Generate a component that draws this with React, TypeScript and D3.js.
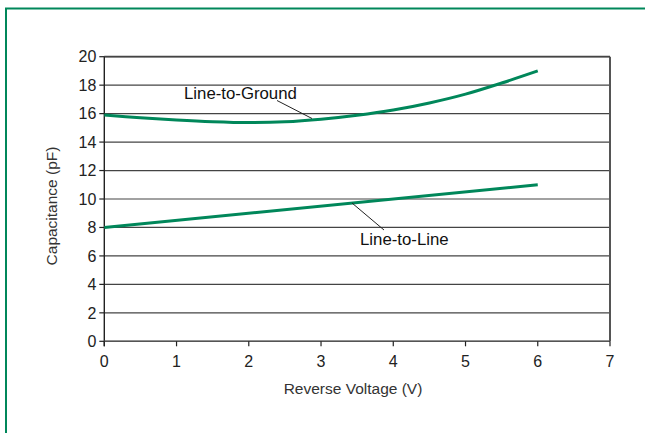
import React from "react";
import * as d3 from "d3";

const voltage = [0, 0.5, 1, 1.5, 2, 2.5, 3, 3.5, 4, 4.5, 5, 5.5, 6];
const lineToGround = [15.9, 15.71, 15.55, 15.43, 15.37, 15.42, 15.6, 15.88, 16.25, 16.75, 17.37, 18.15, 19.0];
const lineToLineV = [0, 6];
const lineToLine = [8.0, 11.0];
const xTicks = [0, 1, 2, 3, 4, 5, 6, 7];
const yTicks = [0, 2, 4, 6, 8, 10, 12, 14, 16, 18, 20];

const W = 645;
const H = 433;
const GREEN = "#00875a";
const FONT = "'Liberation Sans', Arial, Helvetica, sans-serif";

export default function App() {
  const x = d3.scaleLinear().domain([0, 7]).range([104.3, 610]);
  const y = d3.scaleLinear().domain([0, 20]).range([341.3, 56.7]);
  const line = d3
    .line<[number, number]>()
    .x((d) => x(d[0]))
    .y((d) => y(d[1]))
    .curve(d3.curveCatmullRom.alpha(0.5));
  const gPts: [number, number][] = voltage.map((v, i) => [v, lineToGround[i]]);
  const lPts: [number, number][] = lineToLineV.map((v, i) => [v, lineToLine[i]]);

  return (
    <svg
      width={W}
      height={H}
      style={{ position: "absolute", left: 0, top: 0, background: "#fff" }}
      fontFamily={FONT}
    >
      <rect x={6} y={8.5} width={W + 10} height={H + 10} fill="none" stroke={GREEN} strokeWidth={2} />
      {yTicks.map((t) => (
        <line key={"g" + t} x1={x(0)} x2={x(7)} y1={y(t)} y2={y(t)} stroke="#444" strokeWidth={1.2} />
      ))}
      <line x1={x(7)} x2={x(7)} y1={y(20)} y2={y(0)} stroke="#555" strokeWidth={2} />
      <line x1={x(0)} x2={x(7)} y1={y(20)} y2={y(20)} stroke="#444" strokeWidth={1.8} />
      <line x1={x(0)} x2={x(0)} y1={y(20)} y2={y(0) + 5} stroke="#222" strokeWidth={1.4} />
      {yTicks.map((t) => (
        <g key={"y" + t}>
          <line x1={x(0) - 5} x2={x(0)} y1={y(t)} y2={y(t)} stroke="#222" strokeWidth={1.2} />
          <text x={x(0) - 8} y={y(t)} dy="0.36em" textAnchor="end" fontSize={16} fill="#222">
            {t}
          </text>
        </g>
      ))}
      <line x1={x(0)} x2={x(7)} y1={y(0)} y2={y(0)} stroke="#555" strokeWidth={1.5} />
      {xTicks.map((t) => (
        <g key={"x" + t}>
          <line x1={x(t)} x2={x(t)} y1={y(0)} y2={y(0) + 5} stroke="#222" strokeWidth={1.2} />
          <text x={x(t)} y={y(0) + 26} textAnchor="middle" fontSize={16} fill="#222">
            {t}
          </text>
        </g>
      ))}
      <text x={353} y={394} textAnchor="middle" fontSize={15.5} fill="#333">
        Reverse Voltage (V)
      </text>
      <text
        transform={`translate(57,${(y(0) + y(20)) / 2 + 7}) rotate(-90)`}
        textAnchor="middle"
        fontSize={15.5}
        fill="#333"
      >
        Capacitance (pF)
      </text>
      <path d={line(gPts) || ""} fill="none" stroke={GREEN} strokeWidth={3} />
      <path d={line(lPts) || ""} fill="none" stroke={GREEN} strokeWidth={3} />
      <line x1={277} y1={100.5} x2={312} y2={118.5} stroke="#222" strokeWidth={1} />
      <text x={184} y={98.5} fontSize={16.8} fill="#111">
        Line-to-Ground
      </text>
      <line x1={352} y1={203} x2={384} y2={230} stroke="#222" strokeWidth={1} />
      <text x={360} y={245} fontSize={16.8} fill="#111">
        Line-to-Line
      </text>
    </svg>
  );
}
